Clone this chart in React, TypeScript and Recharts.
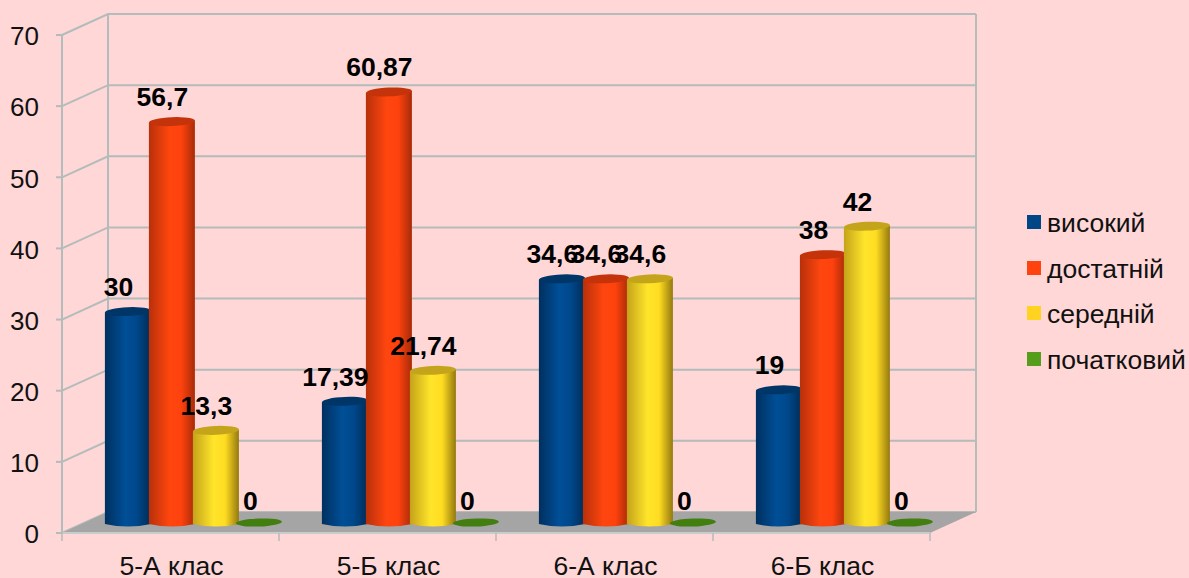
import React from "react";
import { BarChart, Bar, XAxis, YAxis, CartesianGrid, Legend, LabelList, ReferenceArea } from "recharts";

const categories = ["5-А клас", "5-Б клас", "6-А клас", "6-Б клас"];
const high = [30, 17.39, 34.6, 19];
const sufficient = [56.7, 60.87, 34.6, 38];
const medium = [13.3, 21.74, 34.6, 42];
const initial = [0, 0, 0, 0];
const seriesNames = ["високий", "достатній", "середній", "початковий"];
const yTicks = [0, 10, 20, 30, 40, 50, 60, 70];

const data = categories.map((name, i) => ({
  name,
  [seriesNames[0]]: high[i],
  [seriesNames[1]]: sufficient[i],
  [seriesNames[2]]: medium[i],
  [seriesNames[3]]: initial[i],
}));

const FONT = "'Liberation Sans', Arial, sans-serif";
const GRID = "#b4bbbb";
const W = 1189, H = 578;
const PLOT_L = 62, PLOT_R = 930, PLOT_T = 35, PLOT_B = 533;
const BAND = (PLOT_R - PLOT_L) / categories.length;
const WALL_DX = 46, WALL_DY = -21;
const BAR_DX = 23.5, BAR_DY = -8;

const palette = [
  { id: "g0", base: "#004586", cap: "#003568", stops: ["#00305f", "#004f97", "#00478a", "#002c55"] },
  { id: "g1", base: "#ff420e", cap: "#c4330a", stops: ["#b8300a", "#ff460f", "#ff420e", "#a82b08"] },
  { id: "g2", base: "#ffd320", cap: "#c4a41a", stops: ["#c4a31a", "#ffe52a", "#ffdc22", "#94790f"] },
  { id: "g3", base: "#579d1c", cap: "#437f10", stops: ["#437f10", "#437f10", "#437f10", "#437f10"] },
];

const fmt = (v: number) => String(v).replace(".", ",");

const Cylinder = (idx: number) => (props: any) => {
  const { x, y, width, height } = props;
  const p = palette[idx];
  const L = x + BAR_DX - 1;
  const R = L + width + 2;
  const cx = (L + R) / 2;
  const rx = (R - L) / 2;
  const yT = y + BAR_DY;
  const yB = y + height + BAR_DY;
  if (height <= 0.5) {
    return (
      <ellipse cx={cx - 1} cy={yB - 2.5} rx={rx} ry={4} fill={p.cap} transform={`rotate(-2 ${cx - 1} ${yB - 2.5})`} />
    );
  }
  return (
    <g>
      <path
        d={`M${L},${yT + 1} L${L},${yB - 1} Q${cx},${yB + 4} ${R},${yB - 1} L${R},${yT - 1} Z`}
        fill={`url(#${p.id})`}
      />
      <ellipse cx={cx} cy={yT} rx={rx} ry={4.4} fill={p.cap} transform={`rotate(-2.5 ${cx} ${yT})`} />
    </g>
  );
};

const BarLabel = (props: any) => {
  const { x, y, width, value } = props;
  return (
    <text
      x={x + width / 2 + BAR_DX - 9.5}
      y={y + BAR_DY - 24.5}
      textAnchor="middle"
      dominantBaseline="central"
      fontFamily={FONT}
      fontWeight={700}
      fontSize={26.5}
      fill="#000"
    >
      {fmt(value)}
    </text>
  );
};

const WallAndFloor = (props: any) => {
  const { x, y, width, height } = props;
  const b = y + height;
  const r = x + width;
  return (
    <g>
      <line x1={x + WALL_DX} y1={y + WALL_DY} x2={x + WALL_DX} y2={b + WALL_DY} stroke={GRID} strokeWidth={2} />
      <line x1={r + WALL_DX} y1={y + WALL_DY} x2={r + WALL_DX} y2={b + WALL_DY} stroke={GRID} strokeWidth={2} />
      <polygon
        points={`${x},${b} ${r},${b} ${r + WALL_DX},${b + WALL_DY} ${x + WALL_DX},${b + WALL_DY}`}
        fill="#a5a5a5"
      />
    </g>
  );
};

const GridLine = (props: any) => {
  const { x1, x2, y1 } = props;
  return (
    <polyline
      points={`${x1},${y1} ${x1 + WALL_DX},${y1 + WALL_DY} ${x2 + WALL_DX},${y1 + WALL_DY}`}
      fill="none"
      stroke={GRID}
      strokeWidth={2}
    />
  );
};

const CategoryTick = (props: any) => {
  const { x, y, payload, index } = props;
  const left = x - BAND / 2;
  const right = x + BAND / 2;
  return (
    <g>
      <line x1={left} y1={y - 8} x2={left} y2={y} stroke={GRID} strokeWidth={1.5} />
      {index === categories.length - 1 && (
        <line x1={right} y1={y - 8} x2={right} y2={y} stroke={GRID} strokeWidth={1.5} />
      )}
      <text x={x + 1} y={y + 25} textAnchor="middle" dominantBaseline="central" fontFamily={FONT} fontSize={26.5} fill="#111">
        {payload.value}
      </text>
    </g>
  );
};

const LegendContent = (props: any) => (
  <div style={{ fontFamily: FONT, fontSize: 26.5, color: "#111" }}>
    {(props.payload || []).map((e: any) => (
      <div key={e.value} style={{ display: "flex", alignItems: "center", height: 45.5, whiteSpace: "nowrap" }}>
        <span style={{ display: "inline-block", width: 14, height: 14, background: e.color, marginRight: 6, position: "relative", top: -1.5 }} />
        <span>{e.value}</span>
      </div>
    ))}
  </div>
);

export default function App() {
  return (
    <div style={{ position: "absolute", left: 0, top: 0, width: W, height: H, background: "#ffd7d7", overflow: "hidden" }}>
      <BarChart
        width={W}
        height={H}
        data={data}
        margin={{ top: PLOT_T, right: W - PLOT_R, bottom: 0, left: 0 }}
        barCategoryGap={20.4}
        barGap={0}
      >
        <defs>
          {palette.map((p) => (
            <linearGradient key={p.id} id={p.id} x1="0" y1="0" x2="1" y2="0">
              <stop offset="0%" stopColor={p.stops[0]} />
              <stop offset="45%" stopColor={p.stops[1]} />
              <stop offset="70%" stopColor={p.stops[2]} />
              <stop offset="100%" stopColor={p.stops[3]} />
            </linearGradient>
          ))}
        </defs>
        <CartesianGrid horizontal={GridLine as any} vertical={false} />
        <ReferenceArea x1={categories[0]} x2={categories[3]} y1={0} y2={70} shape={
          ((p: any) => <WallAndFloor x={PLOT_L} width={PLOT_R - PLOT_L} y={PLOT_T} height={PLOT_B - PLOT_T} />) as any
        } />
        <XAxis
          dataKey="name"
          height={H - PLOT_B}
          axisLine={{ stroke: "#c9cccc", strokeWidth: 2 }}
          tickLine={false}
          interval={0}
          tick={CategoryTick as any}
        />
        <YAxis
          width={PLOT_L}
          domain={[0, 70]}
          ticks={yTicks}
          axisLine={{ stroke: GRID, strokeWidth: 2 }}
          tickLine={{ stroke: GRID, strokeWidth: 2 }}
          tickSize={6}
          tickMargin={17}
          tick={{ fontFamily: FONT, fontSize: 26, fill: "#111", dy: 1 }}
        />
        <Legend
          layout="vertical"
          align="center"
          verticalAlign="middle"
          itemSorter={null as any}
          content={LegendContent as any}
          wrapperStyle={{ position: "absolute", left: 1027, top: 201, width: 162 }}
        />
        {seriesNames.map((name, i) => (
          <Bar key={name} dataKey={name} fill={palette[i].base} isAnimationActive={false} shape={Cylinder(i) as any}>
            <LabelList dataKey={name} content={BarLabel as any} />
          </Bar>
        ))}
      </BarChart>
    </div>
  );
}
